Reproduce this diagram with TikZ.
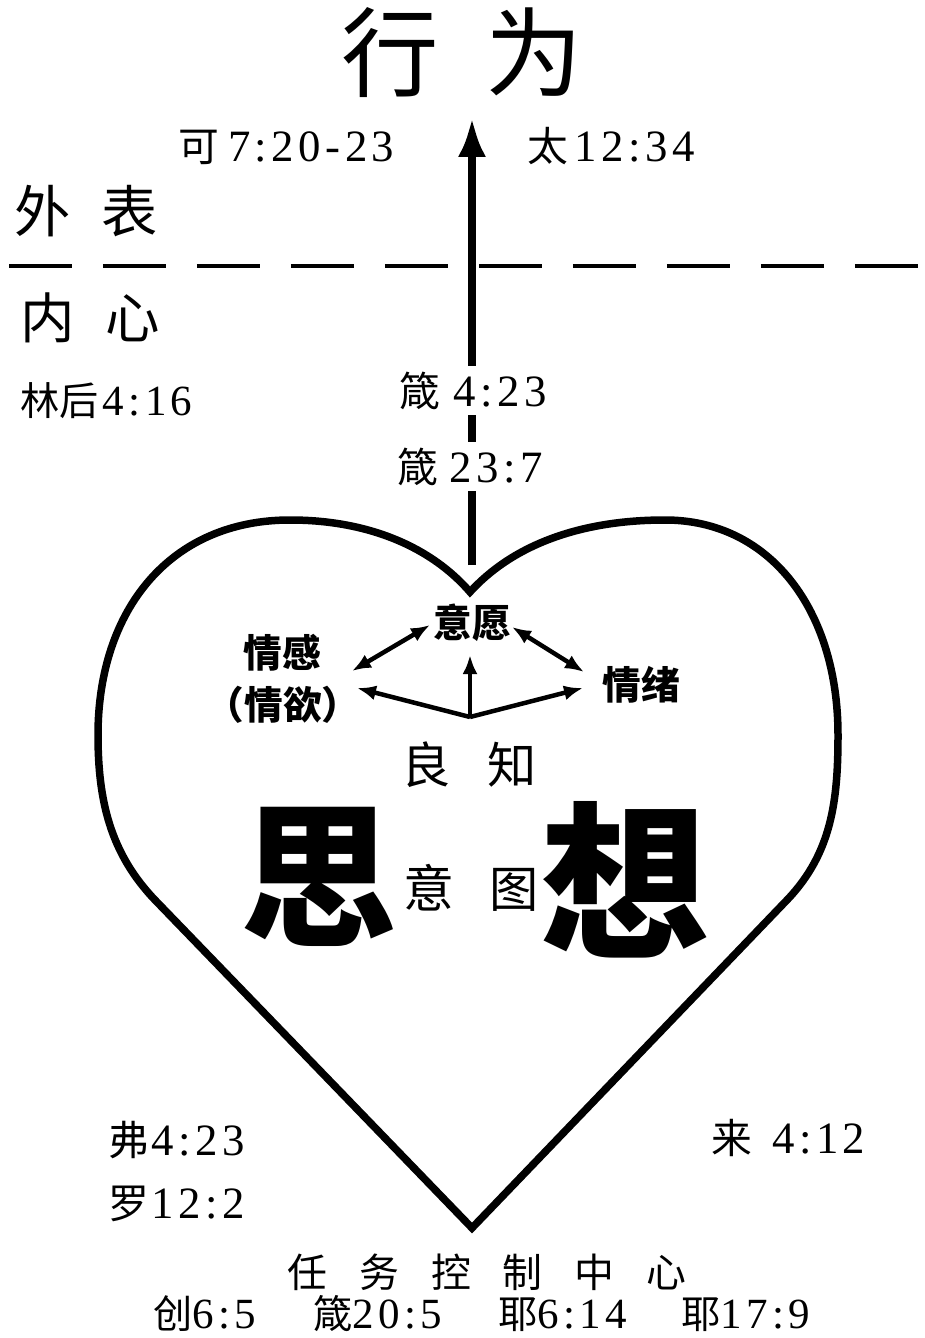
\documentclass[tikz,border=0pt]{standalone}
\usepackage{fontspec}
\setmainfont{Liberation Serif}[LetterSpace=10]
\newfontfamily\cjk{Noto Sans CJK SC}
\newfontfamily\cjks[Scale=0.91]{Noto Sans CJK SC}
\usetikzlibrary{arrows.meta}
\newcommand\fsz[1]{\fontsize{#1}{#1}\selectfont}
\begin{document}
\begin{tikzpicture}[x=0.02cm,y=-0.02cm,
  lab/.style={inner sep=0pt, font=\fsz{25.5pt}},
  slab/.style={inner sep=0pt, font=\fsz{24.5pt}},
  zh/.style={inner sep=0pt},
  heartline/.style={line width=0.15cm, line join=miter, miter limit=20},
  bigarrow/.style={line width=0.16cm, -{Latex[length=0.8cm,width=0.56cm]}},
  smallarrow/.style={line width=0.09cm, -{Latex[length=0.38cm,width=0.3cm]}},
  dblarrow/.style={line width=0.09cm, {Latex[length=0.38cm,width=0.3cm]}-{Latex[length=0.38cm,width=0.3cm]}},
  dashline/.style={line width=0.09cm, dash pattern=on 1.26cm off 0.62cm}
]
\useasboundingbox (0,0) rectangle (925,1338);
\fill[white] (0,0) rectangle (925,1338);

% title
\node[zh, font=\cjk\fsz{55.5pt}] (xw) at (462,53) {行\hspace{0.48em}为};

% dashed divider
\coordinate (dl) at (9,266);
\coordinate (dr) at (925,266);
\draw[dashline] (dl) -- (dr);

% main arrow
\coordinate (notch) at (472,565);
\coordinate (tip) at (472,117);
\draw[bigarrow] (notch) -- (tip);

% top labels
\node[lab, anchor=base west] (ke) at (178,162) {{\cjks 可}\hspace{0.2em}7:20-23};
\node[lab, anchor=base west] (tai) at (527,162) {{\cjks 太}\hspace{0.15em}12:34};
\node[zh, font=\cjk\fsz{32pt}] (wb) at (86,211) {外\hspace{0.56em}表};
\node[zh, font=\cjk\fsz{31pt}] (nx) at (90,318) {内\hspace{0.56em}心};
\node[slab, anchor=base west] (lh) at (20,415) {{\cjks 林后}\hspace{0.1em}4:16};
\node[lab, anchor=base west, fill=white, inner sep=3pt] (z1) at (394,406) {{\cjks 箴}\hspace{0.3em}4:23};
\node[lab, anchor=base west, fill=white, inner sep=3pt] (z2) at (392,482) {{\cjks 箴}\hspace{0.25em}23:7};

% heart
\draw[heartline] (470,592) .. controls (432,548) and (370,520) .. (290,520)
  .. controls (170,520) and (98,610) .. (98,735)
  .. controls (98,800) and (110,853) .. (155,900)
  -- (472,1228)
  -- (787,900)
  .. controls (832,853) and (838,800) .. (838,735)
  .. controls (838,610) and (770,520) .. (665,520)
  .. controls (575,520) and (510,548) .. (470,592) -- cycle;

% inner nodes
\node[zh, font=\cjk\bfseries\fsz{22pt}] (yy) at (472,623) {意愿};
\node[zh, font=\cjk\bfseries\fsz{22pt}] (qg) at (282,653) {情感};
\node[zh, font=\cjk\bfseries\fsz{22pt}] (qy) at (283,705) {（情欲）};
\node[zh, font=\cjk\bfseries\fsz{22pt}] (qx) at (641,685) {情绪};

\coordinate (yyL) at (430,625);
\coordinate (yyR) at (512,627);
\coordinate (qgE) at (352,671);
\coordinate (qxW) at (584,672);
\coordinate (jn) at (470,717);
\coordinate (yyS) at (470,655);
\coordinate (qyE) at (357,688);
\coordinate (qxSW) at (583,688);

\draw[dblarrow] (yyL) -- (qgE);
\draw[dblarrow] (yyR) -- (qxW);
\draw[smallarrow] (jn) -- (yyS);
\draw[smallarrow] (jn) -- (qyE);
\draw[smallarrow] (jn) -- (qxSW);

\node[zh, font=\cjk\fsz{28pt}] (lz) at (469,765) {良\hspace{0.75em}知};
\node[zh, font=\cjk\bfseries\fsz{89pt}] (si) at (319,877) {思};
\node[zh, font=\cjk\fsz{29pt}] (yi) at (429,888) {意};
\node[zh, font=\cjk\fsz{28pt}] (tu) at (514,890) {图};
\node[zh, font=\cjk\bfseries\fsz{96pt}] (xi) at (625,880) {想};

% bottom labels
\node[lab, anchor=base west] (fu) at (108,1155) {{\cjks 弗}\hspace{0.05em}4:23};
\node[lab, anchor=base west] (luo) at (108,1218) {{\cjks 罗}\hspace{0.05em}12:2};
\node[lab, anchor=base west] (lai) at (711,1153) {{\cjks 来}\hspace{0.45em}4:12};
\node[zh, font=\cjk\fsz{22.7pt}] (rw) at (487,1272) {任\hspace{0.8em}务\hspace{0.8em}控\hspace{0.8em}制\hspace{0.8em}中\hspace{0.8em}心};
\node[slab, anchor=base west] (b1) at (153,1328) {{\cjks 创}6:5};
\node[slab, anchor=base west] (b2) at (313,1328) {{\cjks 箴}20:5};
\node[slab, anchor=base west] (b3) at (498,1328) {{\cjks 耶}6:14};
\node[slab, anchor=base west] (b4) at (681,1328) {{\cjks 耶}17:9};
\end{tikzpicture}
\end{document}
